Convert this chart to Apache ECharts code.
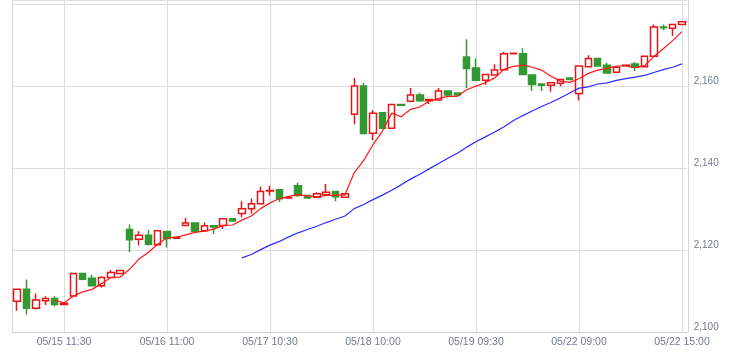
<!DOCTYPE html>
<html><head><meta charset="utf-8">
<script src="https://cdn.jsdelivr.net/npm/echarts@6/dist/echarts.min.js"></script>
<style>html,body{margin:0;padding:0;background:#fff}#c{width:732px;height:357px}</style>
</head><body><div id="c"></div>
<script>
const days = ['05/15','05/16','05/17','05/18','05/19','05/22'];
const times = ['09:00','09:30','10:00','10:30','11:00','11:30','13:00','13:30','14:00','14:30','14:45','15:00'];
const shownLabels = ['05/15 11:30','05/16 11:00','05/17 10:30','05/18 10:00','05/19 09:30','05/22 09:00','05/22 15:00'];
const yTicks = [2100, 2120, 2140, 2160];
const yTickLabels = ['2,100','2,120','2,140','2,160'];

const opens = [2107.5,2110.4,2105.8,2107.6,2108.2,2106.7,2108.8,2114.3,2113.1,2111.3,2113.3,2114.3,
  2125.0,2122.6,2123.6,2121.3,2124.5,2122.9,2126.0,2126.6,2124.7,2125.9,2126.0,2127.6,
  2128.9,2130.1,2131.3,2134.4,2134.7,2132.7,2135.7,2133.3,2132.9,2133.5,2134.3,2132.9,
  2153.1,2160.0,2148.5,2153.5,2149.7,2155.5,2156.3,2157.8,2156.4,2156.6,2158.8,2158.3,
  2167.1,2164.4,2161.4,2162.7,2164.0,2167.9,2167.9,2162.7,2160.5,2160.2,2160.7,2162.0,
  2158.2,2164.7,2166.7,2165.1,2163.4,2165.0,2165.4,2164.7,2167.3,2174.4,2174.1,2175.0];
const closes = [2110.4,2105.8,2107.8,2108.2,2106.7,2107.0,2114.3,2112.9,2111.3,2113.3,2114.5,2115.0,
  2122.5,2123.6,2121.4,2124.7,2122.8,2123.1,2126.6,2124.5,2125.9,2125.6,2127.6,2127.1,
  2130.1,2131.3,2134.3,2134.5,2132.5,2132.8,2133.3,2132.7,2133.7,2134.1,2133.0,2133.7,
  2160.0,2148.4,2153.4,2149.7,2155.5,2155.3,2157.8,2156.4,2156.7,2158.8,2157.8,2157.8,
  2164.3,2161.4,2162.8,2163.9,2167.9,2168.0,2162.8,2160.4,2160.2,2160.8,2161.6,2161.6,
  2164.9,2166.7,2164.9,2163.2,2164.6,2165.1,2164.6,2167.3,2174.4,2174.2,2175.0,2175.7];
const lows = [2105.2,2104.3,2105.5,2106.6,2106.3,2106.6,2108.8,2112.6,2111.1,2110.8,2113.1,2114.2,
  2119.5,2121.1,2121.1,2121.1,2120.6,2122.8,2125.8,2124.4,2124.6,2123.9,2125.1,2127.0,
  2128.0,2128.9,2131.2,2133.3,2131.7,2132.6,2133.0,2132.6,2132.9,2133.1,2131.9,2132.9,
  2150.7,2148.4,2146.8,2149.7,2149.7,2155.3,2156.3,2156.2,2155.6,2156.6,2157.2,2157.8,
  2159.5,2161.3,2160.3,2162.7,2164.0,2167.9,2162.8,2158.8,2158.8,2158.6,2159.9,2161.6,
  2156.5,2164.7,2164.9,2163.1,2163.4,2165.0,2163.7,2164.7,2167.3,2173.6,2172.2,2175.0];
const highs = [2110.4,2112.8,2109.4,2108.7,2108.7,2107.1,2114.3,2114.3,2113.9,2113.6,2115.1,2115.1,
  2126.2,2124.6,2124.8,2124.7,2124.5,2123.2,2127.9,2126.6,2126.7,2125.9,2127.6,2127.6,
  2131.9,2132.6,2135.5,2135.7,2134.8,2132.9,2136.4,2133.3,2134.1,2136.1,2134.3,2133.7,
  2162.0,2160.8,2154.1,2153.5,2155.5,2155.5,2159.5,2158.4,2156.8,2159.5,2158.8,2158.3,
  2171.4,2166.8,2162.8,2165.3,2168.3,2168.0,2169.2,2162.7,2160.5,2160.8,2161.6,2162.0,
  2164.9,2167.5,2166.7,2165.7,2164.6,2165.1,2165.9,2167.3,2175.0,2175.0,2175.0,2175.7];
const ma5 = [null,null,null,null,2107.8,2107.1,2108.8,2109.8,2110.4,2111.8,2113.3,2113.4,
  2115.3,2117.8,2119.4,2121.4,2123.0,2123.1,2123.7,2124.3,2124.6,2125.1,2126.0,2126.1,
  2127.3,2128.3,2130.1,2131.5,2132.5,2133.1,2133.5,2133.2,2133.0,2133.3,2133.4,2133.4,
  2138.9,2141.8,2145.7,2149.0,2153.4,2152.5,2154.3,2154.9,2156.3,2157.0,2157.5,2157.5,
  2159.1,2160.0,2160.8,2162.0,2164.1,2164.8,2165.1,2164.6,2163.9,2162.4,2161.2,2160.9,
  2161.8,2163.1,2163.9,2164.3,2164.9,2164.9,2164.5,2165.0,2167.2,2169.1,2171.1,2173.3];
const ma25 = [null,null,null,null,null,null,null,null,null,null,null,null,
  null,null,null,null,null,null,null,null,null,null,null,null,
  2118.1,2118.9,2120.1,2121.2,2122.1,2123.2,2124.2,2125.0,2125.8,2126.7,2127.5,2128.3,
  2130.1,2131.1,2132.3,2133.4,2134.6,2135.9,2137.3,2138.5,2139.8,2141.1,2142.4,2143.6,
  2145.1,2146.4,2147.6,2148.8,2150.1,2151.6,2152.8,2153.9,2155.0,2156.0,2157.1,2158.3,
  2159.5,2159.8,2160.5,2160.8,2161.4,2161.8,2162.2,2162.6,2163.3,2164.0,2164.6,2165.4];

const categories = days.flatMap(d => times.map(t => d + ' ' + t));
const kData = opens.map((o, i) => [o, closes[i], lows[i], highs[i]]);
const showFn = (i) => shownLabels.indexOf(categories[i]) >= 0;
const labelColor = '#6f7b8f';
const gridColor = '#dedede';

const chart = echarts.init(document.getElementById('c'));
chart.setOption({
  animation: false,
  grid: {left: 12.5, right: 45.3, top: -2, bottom: 25},
  xAxis: {
    type: 'category', data: categories, boundaryGap: true,
    axisLine: {show: true, lineStyle: {color: '#cfcfcf'}},
    axisTick: {show: false},
    axisLabel: {interval: showFn, color: labelColor, fontSize: 10.5, fontFamily: 'Liberation Sans', margin: 5},
    splitLine: {show: true, interval: showFn, alignWithLabel: true, lineStyle: {color: gridColor, width: 1}}
  },
  yAxis: [{
    type: 'value', position: 'right', offset: 2, min: 2100, max: 2181, interval: 20,
    axisLine: {show: true, lineStyle: {color: '#d6d6d6'}},
    axisTick: {show: false},
    axisLabel: {color: labelColor, fontSize: 10, fontFamily: 'Liberation Sans', margin: 5, verticalAlign: 'bottom',
      showMaxLabel: false,
      formatter: v => { const k = yTicks.indexOf(v); return k >= 0 ? yTickLabels[k] : ''; }},
    splitLine: {show: true, lineStyle: {color: gridColor, width: 1}}
  }, {
    type: 'value', position: 'left', min: 0, max: 1,
    axisLine: {show: true, onZero: false, lineStyle: {color: '#d6d6d6'}},
    axisTick: {show: false}, axisLabel: {show: false}, splitLine: {show: false}
  }],
  series: [{
    type: 'candlestick', data: kData, barWidth: 7,
    itemStyle: {color: '#ffffff', color0: '#339933', borderColor: '#e8141b', borderColor0: '#339933', borderWidth: 1.5}
  }, {
    type: 'line', data: ma5, symbol: 'none', lineStyle: {color: '#ff1a1a', width: 1.2}
  }, {
    type: 'line', data: ma25, symbol: 'none', lineStyle: {color: '#2b2bff', width: 1.2}
  }]
});
</script>
</body></html>
